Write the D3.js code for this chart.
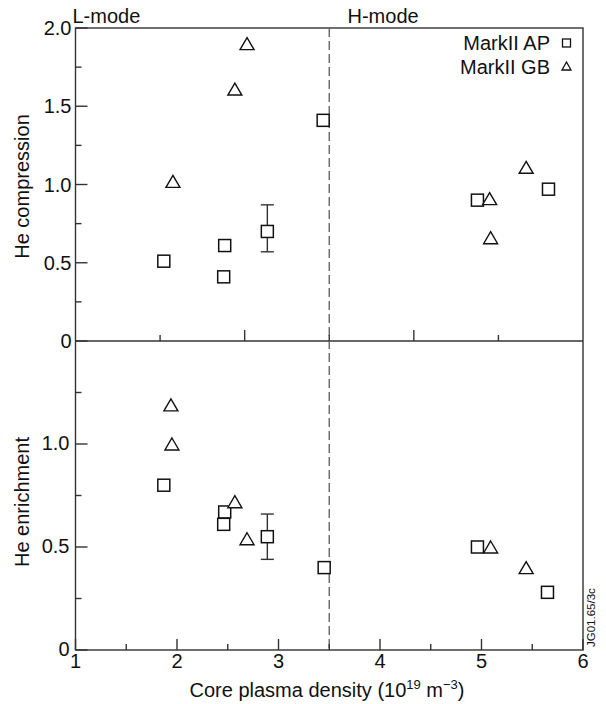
<!DOCTYPE html>
<html><head><meta charset="utf-8">
<script src="https://cdn.jsdelivr.net/npm/d3@7"></script>
<style>body{margin:0;background:#fff}svg{display:block}text{font-family:"Liberation Sans",Arial,sans-serif;fill:#111}</style>
</head><body><svg id="c" width="606" height="704"></svg>
<script>
// Data
const xTicks = [1, 2, 3, 4, 5, 6];
const compTicks = [0, 0.5, 1.0, 1.5, 2.0];
const compTickLabels = ["0", "0.5", "1.0", "1.5", "2.0"];
const enrTicks = [0, 0.5, 1.0];
const enrTickLabels = ["0", "0.5", "1.0"];
const modeBoundary = 3.5;

const apCompX = [1.87, 2.47, 2.46, 2.89, 3.44, 4.96, 5.66];
const apCompY = [0.51, 0.61, 0.41, 0.70, 1.41, 0.90, 0.97];
const gbCompX = [1.96, 2.57, 2.69, 5.08, 5.09, 5.44];
const gbCompY = [1.02, 1.61, 1.90, 0.91, 0.66, 1.11];

const apEnrX = [1.87, 2.47, 2.46, 2.89, 3.45, 4.96, 5.65];
const apEnrY = [0.80, 0.67, 0.61, 0.55, 0.40, 0.50, 0.28];
const gbEnrX = [1.94, 1.95, 2.57, 2.69, 5.09, 5.44];
const gbEnrY = [1.19, 1.00, 0.72, 0.54, 0.50, 0.40];

const errCompX = [2.89], errCompLo = [0.57], errCompHi = [0.87];
const errEnrX = [2.89], errEnrLo = [0.44], errEnrHi = [0.66];

const seriesNames = ["MarkII AP", "MarkII GB"];

const svg = d3.select("#c");
const L = 75.5, R = 583, T = 28, M = 341, B = 650;
const axisColor = "#333";

const x = d3.scaleLinear().domain([1, 6]).range([L, R]);
const yC = d3.scaleLinear().domain([0, 2]).range([M, T]);
const yE = d3.scaleLinear().domain([0, 1.5]).range([B, M]);

// frame
svg.append("rect").attr("x", L).attr("y", T).attr("width", R - L).attr("height", B - T)
  .attr("fill", "none").attr("stroke", axisColor).attr("stroke-width", 1.4);
svg.append("line").attr("x1", L).attr("x2", R).attr("y1", M).attr("y2", M)
  .attr("stroke", axisColor).attr("stroke-width", 1.4);

// dashed boundary
svg.append("line").attr("x1", x(modeBoundary)).attr("x2", x(modeBoundary))
  .attr("y1", T).attr("y2", B).attr("stroke", "#666").attr("stroke-width", 1.4)
  .attr("stroke-dasharray", "9,4");

function tickLine(x1, y1, x2, y2) {
  svg.append("line").attr("x1", x1).attr("y1", y1).attr("x2", x2).attr("y2", y2)
    .attr("stroke", axisColor).attr("stroke-width", 1.4);
}

// bottom x ticks (inside)
xTicks.forEach(v => tickLine(x(v), B, x(v), B - 11));
d3.range(1.5, 6, 1).forEach(v => tickLine(x(v), B, x(v), B - 6));
// middle axis ticks (divide width into 6)
const xm = d3.scaleLinear().domain([0, 6]).range([L, R]);
[1, 2, 3, 4, 5].forEach(i => tickLine(xm(i), M, xm(i), M - (i % 2 === 0 ? 11 : 6)));

// y ticks
compTicks.forEach(v => tickLine(L, yC(v), L + 12, yC(v)));
d3.range(0.25, 2, 0.5).forEach(v => tickLine(L, yC(v), L + 6, yC(v)));
enrTicks.forEach(v => tickLine(L, yE(v), L + 12, yE(v)));
d3.range(0.25, 1.5, 0.5).forEach(v => tickLine(L, yE(v), L + 6, yE(v)));

// tick labels
const fs = 20;
compTicks.forEach((v, i) => svg.append("text").attr("x", L - 4).attr("y", yC(v) + 7)
  .attr("text-anchor", "end").attr("font-size", fs).text(compTickLabels[i]));
enrTicks.forEach((v, i) => svg.append("text").attr("x", L - 6).attr("y", yE(v) + 6)
  .attr("text-anchor", "end").attr("font-size", fs).text(enrTickLabels[i]));
xTicks.forEach(v => svg.append("text").attr("x", x(v)).attr("y", 668)
  .attr("text-anchor", "middle").attr("font-size", fs).text(String(v)));

// axis titles
svg.append("text").attr("transform", "translate(29,186.5) rotate(-90)")
  .attr("text-anchor", "middle").attr("font-size", fs).text("He compression");
svg.append("text").attr("transform", "translate(29,502) rotate(-90)")
  .attr("text-anchor", "middle").attr("font-size", fs).text("He enrichment");
const xl = svg.append("text").attr("x", 327).attr("y", 697).attr("text-anchor", "middle").attr("font-size", fs);
xl.append("tspan").text("Core plasma density (10");
xl.append("tspan").attr("font-size", 13).attr("dy", -8).text("19");
xl.append("tspan").attr("dy", 8).text(" m");
xl.append("tspan").attr("font-size", 13).attr("dy", -8).text("\u22123");
xl.append("tspan").attr("dy", 8).text(")");

svg.append("text").attr("x", 72.5).attr("y", 22.5).attr("font-size", fs).text("L-mode");
svg.append("text").attr("x", 347.5).attr("y", 22.5).attr("font-size", fs).text("H-mode");
svg.append("text").attr("transform", "translate(595,647) rotate(-90)")
  .attr("font-size", 11.5).text("JG01.65/3c");

// markers
function square(cx, cy, s) {
  svg.append("rect").attr("x", cx - s / 2).attr("y", cy - s / 2).attr("width", s).attr("height", s)
    .attr("fill", "#fff").attr("stroke", "#111").attr("stroke-width", 1.5);
}
function tri(cx, cy, w, h) {
  svg.append("path").attr("d", `M${cx},${cy - h / 2}L${cx + w / 2},${cy + h / 2}L${cx - w / 2},${cy + h / 2}Z`)
    .attr("fill", "#fff").attr("stroke", "#111").attr("stroke-width", 1.4);
}
function errbar(cx, lo, hi) {
  tickLine(cx, lo, cx, hi);
  tickLine(cx - 6.5, lo, cx + 6.5, lo);
  tickLine(cx - 6.5, hi, cx + 6.5, hi);
}
errCompX.forEach((v, i) => errbar(x(v), yC(errCompLo[i]), yC(errCompHi[i])));
errEnrX.forEach((v, i) => errbar(x(v), yE(errEnrLo[i]), yE(errEnrHi[i])));

apCompX.forEach((v, i) => square(x(v), yC(apCompY[i]), 12));
gbCompX.forEach((v, i) => tri(x(v), yC(gbCompY[i]), 14, 12));
apEnrX.forEach((v, i) => square(x(v), yE(apEnrY[i]), 12));
gbEnrX.forEach((v, i) => tri(x(v), yE(gbEnrY[i]), 14, 12));

// legend
svg.append("text").attr("x", 550).attr("y", 50).attr("text-anchor", "end").attr("font-size", fs).text(seriesNames[0]);
svg.append("text").attr("x", 550).attr("y", 74).attr("text-anchor", "end").attr("font-size", fs).text(seriesNames[1]);
svg.append("rect").attr("x", 562.5).attr("y", 39).attr("width", 8).attr("height", 8)
  .attr("fill", "#fff").attr("stroke", "#111").attr("stroke-width", 1.3);
svg.append("path").attr("d", "M566.5,62L571,70L562,70Z")
  .attr("fill", "#fff").attr("stroke", "#111").attr("stroke-width", 1.3);
</script></body></html>
